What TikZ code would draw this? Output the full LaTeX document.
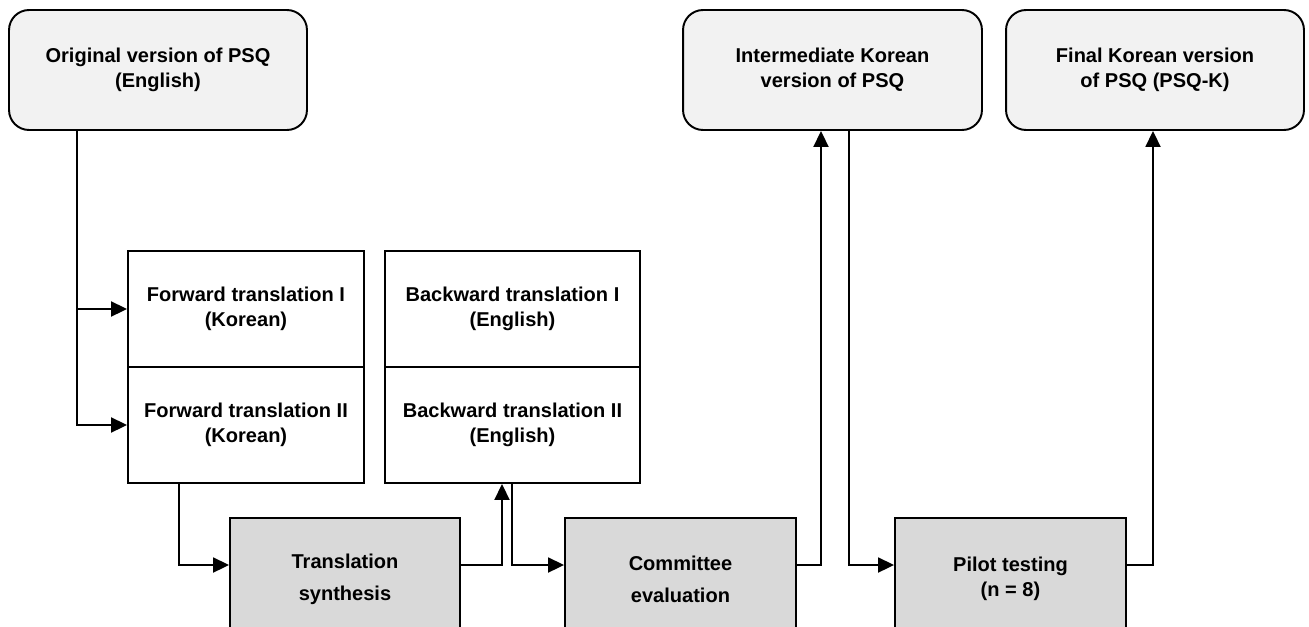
\documentclass[tikz,border=0pt]{standalone}
\usepackage{fontspec}
\setmainfont{Liberation Sans}
\usepackage{xcolor}
\usetikzlibrary{arrows.meta}

\definecolor{topfill}{HTML}{F2F2F2}
\definecolor{stepfill}{HTML}{D9D9D9}

\tikzset{
  boxtext/.style={font=\bfseries\fontsize{11.4pt}{14.2pt}\selectfont, align=center, inner sep=0pt},
  versionbox/.style={boxtext, draw, line width=1.1pt, rounded corners=0.4cm, fill=topfill, minimum height=2.4cm},
  transbox/.style={boxtext, draw, line width=1.1pt, fill=white, minimum height=2.32cm},
  stepbox/.style={boxtext, draw, line width=1.1pt, fill=stepfill, minimum width=4.6cm, minimum height=2.44cm},
  flow/.style={line width=1.1pt, -{Triangle[length=0.32cm,width=0.3cm]}},
}

\begin{document}
\begin{tikzpicture}[x=0.02cm, y=-0.02cm]%
\useasboundingbox (0,0) rectangle (1309,626);%
\clip (0,0) rectangle (1309,626);%
% top row
\node[versionbox, minimum width=5.96cm] (orig) at (158, 70) {Original version of PSQ\\(English)};%
\node[versionbox, minimum width=5.98cm] (inter) at (832.5, 70) {Intermediate Korean\\version of PSQ};%
\node[versionbox, minimum width=5.96cm] (final) at (1155, 70) {Final Korean version\\of PSQ (PSQ-K)};%
% translations
\node[transbox, minimum width=4.72cm] (fwdI) at (246, 309) {Forward translation I\\(Korean)};%
\node[transbox, minimum width=4.72cm] (fwdII) at (246, 425) {Forward translation II\\(Korean)};%
\node[transbox, minimum width=5.1cm] (bwdI) at (512.5, 309) {Backward translation I\\(English)};%
\node[transbox, minimum width=5.1cm] (bwdII) at (512.5, 425) {Backward translation II\\(English)};%
% steps
\node[stepbox] (synth) at (345, 579) {Translation\\[4pt]synthesis};%
\node[stepbox, minimum width=4.62cm] (comm) at (680.5, 579) {Committee\\[4pt]evaluation};%
\node[stepbox, minimum width=4.62cm] (pilot) at (1010.5, 579) {Pilot testing\\(n = 8)};%
% connectors
\draw[flow] ([xshift=-1.62cm]orig.south) |- (fwdI.west);%
\draw[flow] ([xshift=-1.62cm]orig.south) |- (fwdII.west);%
\draw[flow] ([xshift=-1.34cm]fwdII.south) |- ([yshift=0.28cm]synth.west);%
\draw[flow] ([yshift=0.28cm]synth.east) -| ([xshift=-0.21cm]bwdII.south);%
\draw[flow] ([xshift=-0.01cm]bwdII.south) |- ([yshift=0.28cm]comm.west);%
\draw[flow] ([yshift=0.28cm]comm.east) -| ([xshift=-0.23cm]inter.south);%
\draw[flow] ([xshift=0.33cm]inter.south) |- ([yshift=0.28cm]pilot.west);%
\draw[flow] ([yshift=0.28cm]pilot.east) -| ([xshift=-0.04cm]final.south);%
\end{tikzpicture}
\end{document}
